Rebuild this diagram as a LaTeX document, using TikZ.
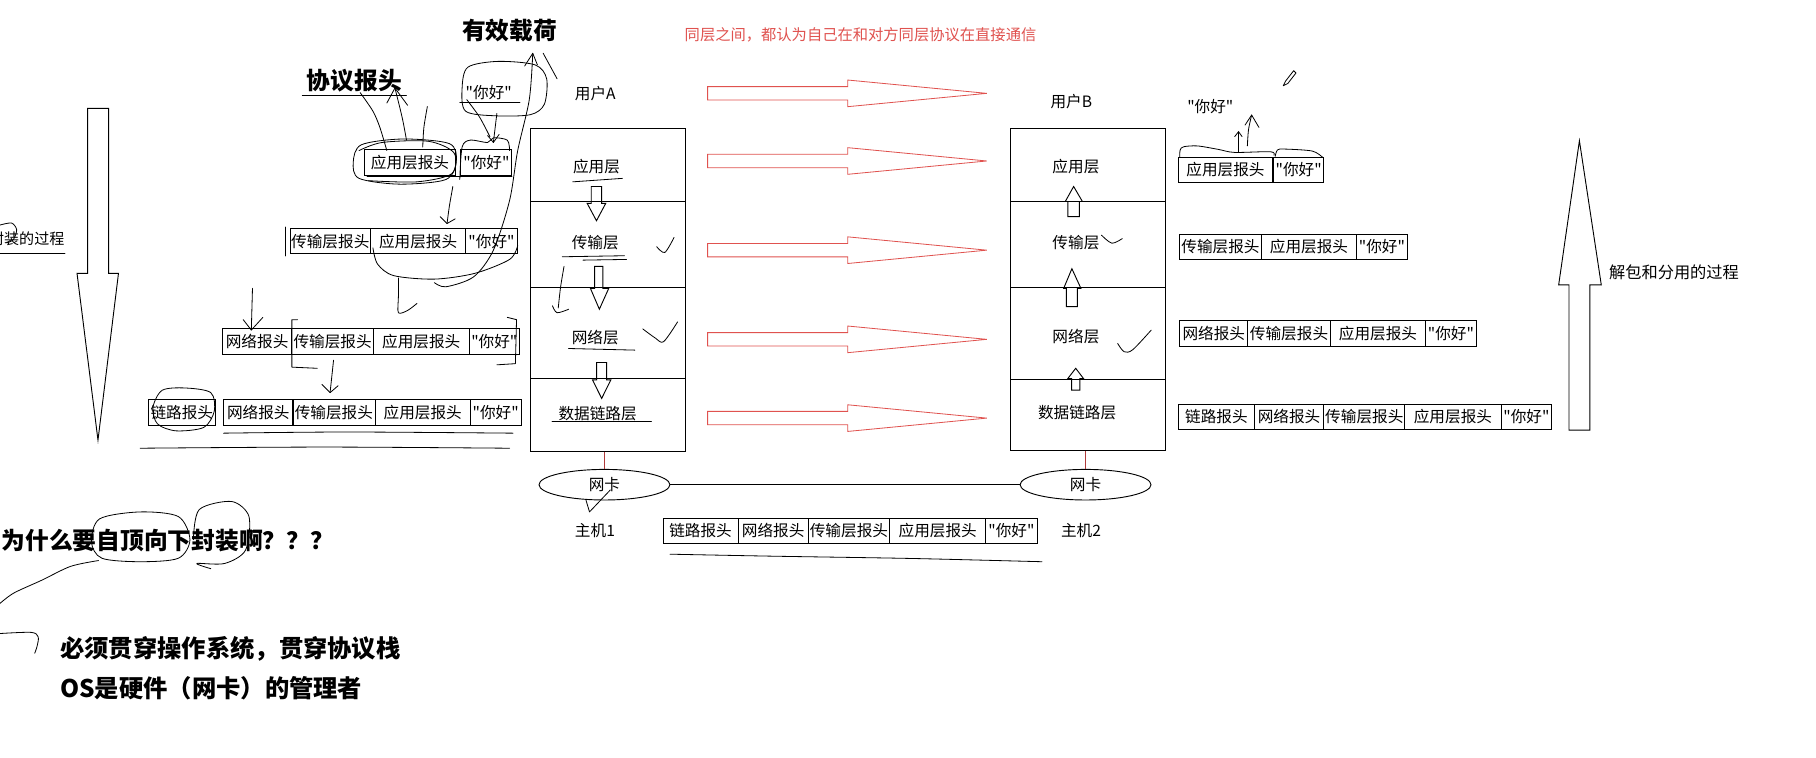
\documentclass[tikz,border=0pt]{standalone}
\usepackage{fontspec}
\setmainfont{Noto Sans CJK SC}
\newfontfamily\cjkplain{Noto Sans CJK SC}
\usepackage{tikz}
\usetikzlibrary{shapes.geometric}
\definecolor{peerred}{HTML}{E0524F}
\definecolor{wirered}{HTML}{B03A3A}
\newcommand{\segfont}{\fontsize{13.5}{15}\selectfont}
\newcommand{\headfont}{\fontsize{20.5}{23}\selectfont\bfseries}
\newcommand{\notefont}{\fontsize{21}{24}\selectfont\bfseries}
\newcommand{\hello}{{\cjkplain"你好"}}

\begin{document}
\begin{tikzpicture}[x=1pt,y=-1pt,line width=0.8pt,
  seg/.style={draw,inner sep=0pt,minimum height=22pt,font=\segfont},
  lab/.style={inner sep=0pt,font=\segfont},
  peer/.style={draw=peerred,line width=0.7pt},
  scrib/.style={line width=0.7pt,line cap=round,line join=round}]
  \useasboundingbox (0,0) rectangle (1568,654);
  \fill[white] (0,0) rectangle (1568,654);

  % titles
  \node[inner sep=0pt,font=\headfont] (payload) at (440,26.6) {有效载荷};
  \node[inner sep=0pt,font=\headfont] (hdrword) at (306,70) {协议报头};
  \node[lab,text=peerred,font=\fontsize{13.2}{15}\selectfont] (peernote) at (743,30.2) {同层之间，都认为自己在和对方同层协议在直接通信};
  \node[lab] (msgA) at (422,80) {\hello};
  \node[lab] (msgB) at (1045,92) {\hello};
  \node[lab] (userA) at (514,80.6) {用户A};
  \node[lab] (userB) at (925,88) {用户B};

  % host 1 stack
  \node[draw,minimum width=134pt,minimum height=279pt,inner sep=0pt] (stackA) at (525,250.5) {};
  \draw (458,174) -- (592,174);
  \draw (458,248) -- (592,248);
  \draw (458,327) -- (592,327);
  \node[lab] (appA) at (515,144) {应用层};
  \node[lab] (transA) at (514,209.6) {传输层};
  \node[lab] (netA) at (514,291.4) {网络层};
  \node[lab] (linkA) at (516,357) {数据链路层};
  \draw (510.5,161) -- (519.5,161) -- (519.5,175.6) -- (523,175.6) -- (515,190.6) -- (507,175.6) -- (510.5,175.6) -- cycle;
  \draw (513.4,230) -- (520.6,230) -- (520.6,249) -- (525.6,249) -- (517.5,267) -- (509.8,249) -- (513.4,249) -- cycle;
  \draw (515.2,313) -- (523.8,313) -- (523.8,328) -- (527.4,328) -- (519.5,344) -- (511.6,328) -- (515.2,328) -- cycle;

  % host 2 stack
  \node[draw,minimum width=134pt,minimum height=278.5pt,inner sep=0pt] (stackB) at (939.5,249.8) {};
  \draw (872.5,174) -- (1006.5,174);
  \draw (872.5,248) -- (1006.5,248);
  \draw (872.5,327.5) -- (1006.5,327.5);
  \node[lab] (appB) at (929,144) {应用层};
  \node[lab] (transB) at (929,209.6) {传输层};
  \node[lab] (netB) at (929,290.7) {网络层};
  \node[lab] (linkB) at (930,356.4) {数据链路层};
  \draw (922,187) -- (932,187) -- (932,174) -- (934.6,174) -- (927,161) -- (919.8,174) -- (922,174) -- cycle;
  \draw (920.8,264.8) -- (930.2,264.8) -- (930.2,249) -- (933.3,249) -- (925.5,232) -- (918.4,249) -- (920.8,249) -- cycle;
  \draw (925.2,336.8) -- (932.4,336.8) -- (932.4,326.8) -- (935.5,326.8) -- (928.8,318) -- (922,326.8) -- (925.2,326.8) -- cycle;

  % peer arrows
  \draw[peer,shift={(0,80.6)}] (611,-5.8) -- (732,-5.8) -- (732,-11.5) -- (852,0) -- (732,11.5) -- (732,5.8) -- (611,5.8) -- cycle;
  \draw[peer,shift={(0,139)}] (611,-5.8) -- (732,-5.8) -- (732,-11.5) -- (852,0) -- (732,11.5) -- (732,5.8) -- (611,5.8) -- cycle;
  \draw[peer,shift={(0,216)}] (611,-5.8) -- (732,-5.8) -- (732,-11.5) -- (852,0) -- (732,11.5) -- (732,5.8) -- (611,5.8) -- cycle;
  \draw[peer,shift={(0,293)}] (611,-5.8) -- (732,-5.8) -- (732,-11.5) -- (852,0) -- (732,11.5) -- (732,5.8) -- (611,5.8) -- cycle;
  \draw[peer,shift={(0,361)}] (611,-5.8) -- (732,-5.8) -- (732,-11.5) -- (852,0) -- (732,11.5) -- (732,5.8) -- (611,5.8) -- cycle;

  % network cards
  \node[draw,ellipse,minimum width=113pt,minimum height=26.4pt,inner sep=0pt,font=\segfont] (nicA) at (521.9,418.5) {网卡};
  \node[draw,ellipse,minimum width=113pt,minimum height=26.4pt,inner sep=0pt,font=\segfont] (nicB) at (937.3,418.5) {网卡};
  \draw (nicA) -- (nicB);
  \draw[wirered] (stackA.south -| nicA) -- (nicA);
  \draw[wirered] (stackB.south -| nicB) -- (nicB);
  \node[lab] (hostA) at (513.7,458.3) {主机1};
  \node[lab] (hostB) at (933.4,457.7) {主机2};

  % frame on the wire
  \node[seg,minimum width=64.8pt] (b1) at (604.9,458.3) {链路报头};
  \node[seg,minimum width=60.6pt] (b2) at (667.6,458.3) {网络报头};
  \node[seg,minimum width=70.3pt] (b3) at (733,458.3) {传输层报头};
  \node[seg,minimum width=83pt] (b4) at (809.7,458.3) {应用层报头};
  \node[seg,minimum width=44.2pt] (b5) at (873.3,458.3) {\hello};

  % encapsulation, left
  \node[seg,minimum width=78pt] (l1a) at (354,140.3) {应用层报头};
  \node[seg,minimum width=44pt] (l1b) at (420,140.3) {\hello};
  \node[seg,minimum width=69.6pt] (l2a) at (285.2,208.2) {传输层报头};
  \node[seg,minimum width=82pt] (l2b) at (361,208.2) {应用层报头};
  \node[seg,minimum width=44.7pt] (l2c) at (424.4,208.2) {\hello};
  \node[seg,minimum width=60pt] (l3a) at (222,295) {网络报头};
  \node[seg,minimum width=70.4pt] (l3b) at (287.2,295) {传输层报头};
  \node[seg,minimum width=82.6pt] (l3c) at (363.7,295) {应用层报头};
  \node[seg,minimum width=43.5pt] (l3d) at (426.8,295) {\hello};
  \node[seg,minimum width=58pt] (l4a) at (157,356.2) {链路报头};
  \node[seg,minimum width=60pt] (l4b) at (223,356.2) {网络报头};
  \node[seg,minimum width=71pt] (l4c) at (288.3,356.2) {传输层报头};
  \node[seg,minimum width=82pt] (l4d) at (365,356.2) {应用层报头};
  \node[seg,minimum width=44pt] (l4e) at (428,356.2) {\hello};

  % decapsulation, right
  \node[seg,minimum width=80.8pt] (r1a) at (1058.1,146.6) {应用层报头};
  \node[seg,minimum width=43.5pt] (r1b) at (1121.3,146.6) {\hello};
  \node[seg,minimum width=70.4pt] (r2a) at (1053.8,213.2) {传输层报头};
  \node[seg,minimum width=82.4pt] (r2b) at (1130.2,213.2) {应用层报头};
  \node[seg,minimum width=43.6pt] (r2c) at (1193.2,213.2) {\hello};
  \node[seg,minimum width=59pt] (r3a) at (1048,287.8) {网络报头};
  \node[seg,minimum width=71pt] (r3b) at (1113,287.8) {传输层报头};
  \node[seg,minimum width=82.5pt] (r3c) at (1189.8,287.8) {应用层报头};
  \node[seg,minimum width=43.6pt] (r3d) at (1252.8,287.8) {\hello};
  \node[seg,minimum width=65.3pt] (r4a) at (1050.3,360) {链路报头};
  \node[seg,minimum width=60pt] (r4b) at (1113,360) {网络报头};
  \node[seg,minimum width=70pt] (r4c) at (1178,360) {传输层报头};
  \node[seg,minimum width=83pt] (r4d) at (1254.5,360) {应用层报头};
  \node[seg,minimum width=44pt] (r4e) at (1318,360) {\hello};

  % big process arrows
  \draw (75.7,93.6) -- (93.8,93.6) -- (93.8,236) -- (102.3,236) -- (84.6,380) -- (66.5,236) -- (75.7,236) -- cycle;
  \draw (1354.7,371.4) -- (1372.7,371.4) -- (1372.7,246) -- (1382.6,246) -- (1363.7,121.5) -- (1345.8,246) -- (1354.7,246) -- cycle;
  \node[lab,anchor=east,font=\fontsize{13}{15}\selectfont] (encap) at (56,205.8) {封装的过程};
  \node[lab,anchor=west,font=\fontsize{14}{16}\selectfont] (decap) at (1389,235.5) {解包和分用的过程};

  % questions
  \node[inner sep=0pt,anchor=west,font=\fontsize{20.5}{23}\selectfont\bfseries] (why) at (1,466.4) {为什么要自顶向下封装啊？？？};
  \node[inner sep=0pt,anchor=west,font=\notefont] (ans1) at (51.5,560) {必须贯穿操作系统，贯穿协议栈};
  \node[inner sep=0pt,anchor=west,font=\notefont] (ans2) at (51.5,594.5) {OS是硬件（网卡）的管理者};

  % hand marks
  \draw[scrib] (0,219) -- (56,219);
  \draw[scrib] plot[smooth] coordinates {(0,194.3) (10,192.6) (14.4,198.4) (11.5,206.9) (5.8,209.7)};
  \draw[scrib] (261,82) -- (351,82);
  \draw[scrib] (397,88) -- (449,88);
  \draw[scrib] plot[smooth cycle] coordinates {(399,76) (404,58) (430,53) (462,56) (472,68) (470,90) (458,99) (428,100) (402,96)};
  \draw[scrib] plot[smooth] coordinates {(460,46) (457,86) (447,130) (440,173) (426,216) (409,239) (385,247.6) (375,244)};
  \draw[scrib] (453,57) -- (460,46) -- (464,56);
  \draw[scrib] (469,46) -- (481,68);
  \draw[scrib] plot[smooth] coordinates {(311,80) (322,96) (328,110) (334,130)};
  \draw[scrib] plot[smooth] coordinates {(341,76) (345,92) (348,105) (351,121)};
  \draw[scrib] (334,89) -- (341,76) -- (352,91);
  \draw[scrib] plot[smooth] coordinates {(369,92) (366,110) (365,127)};
  \draw[scrib] plot[smooth] coordinates {(403,86) (414,101) (423,118)};
  \draw[scrib] (429,98) -- (426,123);
  \draw[scrib] (421,117) -- (426,123) -- (431,116);
  \draw[scrib] plot[smooth cycle] coordinates {(305,140) (312,125) (348,120) (388,124) (394,139) (385,155) (345,159) (310,154)};
  \draw[scrib] plot[smooth] coordinates {(310,130) (330,123) (370,122) (392,132) (390,150) (360,157) (318,156)};
  \draw[scrib] plot[smooth] coordinates {(397,155) (399,127) (406,121) (421,123) (426,119) (438,121) (440,130)};
  \draw[scrib] (317,152) -- (442,152);
  \draw[scrib] plot[smooth] coordinates {(391,161) (388,178) (386,193)};
  \draw[scrib] (380,187) -- (386,193) -- (393,189);
  \draw[scrib] (246,196) -- (246,221);
  \draw[scrib] plot[smooth] coordinates {(322,214) (326,228) (340,238) (375,241) (410,236) (440,224) (447,212)};
  \draw[scrib] plot[smooth] coordinates {(344,240) (344,256) (344,270) (352,268) (360,262)};
  \draw[scrib] (218,249) -- (217,285);
  \draw[scrib] (210,276) -- (217,285) -- (227,274);
  \draw[scrib] (257,276) -- (252,276) -- (252,317) -- (274,318);
  \draw[scrib] (438,274) -- (446,276) -- (445,314) -- (429,315);
  \draw[scrib] (288,311) -- (285,339);
  \draw[scrib] (278,332) -- (285,339) -- (292,333);
  \draw[scrib] plot[smooth cycle] coordinates {(132,352) (140,337) (160,335) (182,339) (185,355) (176,369) (152,372) (136,366)};
  \draw[scrib] plot[smooth] coordinates {(193,374) (300,373) (443,374)};
  \draw[scrib] plot[smooth] coordinates {(121,387) (280,386) (440,387)};
  \draw[scrib] (494.5,157) -- (537.4,154);
  \draw[scrib] (485.5,221.7) -- (539.2,220.8);
  \draw[scrib] (503.4,224.6) -- (541,224);
  \draw[scrib] (490.9,300.9) -- (548.2,302.3);
  \draw[scrib] (476.6,364.2) -- (562.5,364.2);
  \draw[scrib] plot[smooth] coordinates {(487,230) (484,248) (482,266)};
  \draw[scrib] plot[smooth] coordinates {(477,264) (481,270) (491,267)};
  \draw[scrib] plot[smooth] coordinates {(567,213) (574,218) (582,205)};
  \draw[scrib] plot[smooth] coordinates {(555,284) (566,292) (573,295) (585,278)};
  \draw[scrib] plot[smooth] coordinates {(951,203) (960,210) (969,206)};
  \draw[scrib] plot[smooth] coordinates {(965,296.5) (970.6,303.7) (978,302) (994,285)};
  \draw[scrib] plot[smooth] coordinates {(578.5,478.5) (666,480.2) (787.5,482.2) (899.6,485)};
  \draw[scrib] (527,423) -- (509,442) -- (506,432);
  \draw[scrib] plot[smooth] coordinates {(1018.6,135.8) (1019,129.5) (1022,126.7) (1034,126) (1052,129) (1066,131.6) (1097,131) (1100,134)};
  \draw[scrib] plot[smooth] coordinates {(1101,135) (1103,129.5) (1109,128.7) (1133,130.4) (1142,135.9)};
  \draw[scrib] (1069.4,131) -- (1069.4,113.7);
  \draw[scrib] (1066,118) -- (1069.4,113.7) -- (1072.5,118);
  \draw[scrib] plot[smooth] coordinates {(1077,126) (1078,112) (1080.7,99.3)};
  \draw[scrib] (1075,108) -- (1080.7,99.3) -- (1087,110);
  \draw[scrib] (1108,74) -- (1110,70) -- (1117,61) -- (1119,63) -- (1112,72) -- cycle;
  \draw[scrib] plot[smooth cycle] coordinates {(79,468) (86,448) (121,442) (154,446) (164,466) (154,482) (121,485) (88,482)};
  \draw[scrib] plot[smooth] coordinates {(167,466) (172,440) (200,433) (215,446) (212,475) (194,486.5) (170,486.5) (182,491)};
  \draw[scrib] plot[smooth] coordinates {(85,484) (61,489) (36,501) (12,512) (0,521)};
  \draw[scrib] plot[smooth] coordinates {(0,547) (27,546) (33,550) (32,558) (30,564)};
\end{tikzpicture}
\end{document}
